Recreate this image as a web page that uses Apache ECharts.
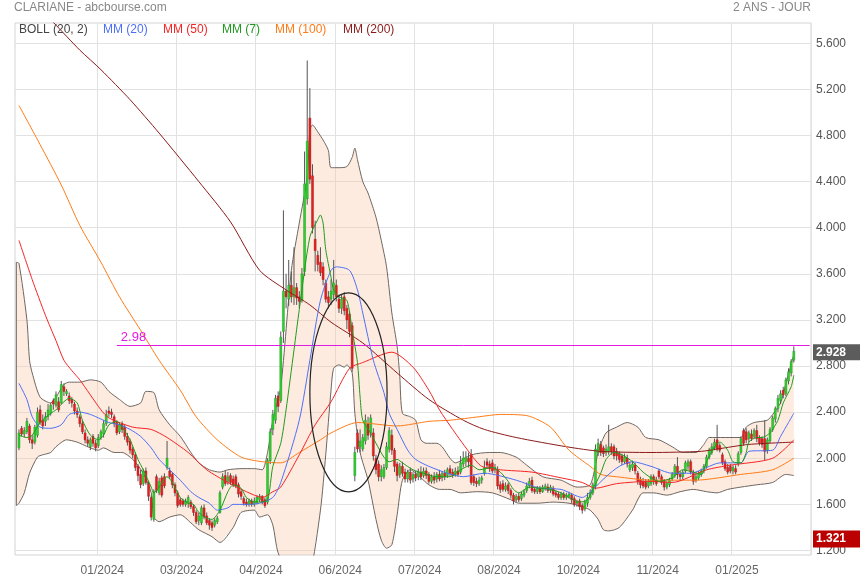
<!DOCTYPE html>
<html><head><meta charset="utf-8">
<script src="https://cdn.jsdelivr.net/npm/echarts@6/dist/echarts.min.js"></script>
<style>html,body{margin:0;padding:0;background:#fff}#c{width:860px;height:580px}</style>
</head><body><div id="c"></div>
<script>
// ---------- DATA ----------
const titleText = 'CLARIANE - abcbourse.com';
const periodText = '2 ANS - JOUR';
const tickLabels = ['01/2024','03/2024','04/2024','06/2024','07/2024','08/2024','10/2024','11/2024','01/2025'];
const firstTickIndex = 31, tickStep = 30, slotCount = 301, firstCandleIndex = 1;
const lastPrice = 2.928, lowTag = 1.321, alertLevel = 2.98, alertStartIndex = 38;
// candles: [open, close, low, high]
const candles = [
[2.09,2.22,2.07,2.25],[2.26,2.21,2.19,2.28],[2.21,2.24,2.18,2.27],[2.23,2.32,2.21,2.35],[2.28,2.16,2.13,2.30],
[2.16,2.13,2.08,2.20],[2.14,2.27,2.12,2.29],[2.20,2.40,2.18,2.44],[2.42,2.31,2.29,2.46],[2.33,2.28,2.25,2.38],
[2.32,2.36,2.28,2.40],[2.36,2.42,2.33,2.47],[2.39,2.46,2.37,2.48],[2.50,2.47,2.42,2.52],[2.46,2.55,2.44,2.58],
[2.49,2.42,2.40,2.53],[2.48,2.64,2.47,2.67],[2.62,2.58,2.54,2.65],[2.56,2.58,2.54,2.60],[2.54,2.50,2.47,2.57],
[2.51,2.48,2.44,2.53],[2.47,2.41,2.38,2.49],[2.41,2.38,2.35,2.44],[2.36,2.30,2.27,2.38],[2.30,2.23,2.21,2.33],
[2.22,2.16,2.13,2.25],[2.16,2.13,2.10,2.19],[2.10,2.16,2.07,2.18],[2.19,2.13,2.10,2.21],[2.13,2.09,2.06,2.16],
[2.11,2.18,2.09,2.21],[2.18,2.23,2.16,2.25],[2.21,2.30,2.18,2.33],[2.30,2.38,2.28,2.42],[2.41,2.39,2.36,2.45],
[2.40,2.38,2.35,2.43],[2.36,2.30,2.27,2.38],[2.31,2.22,2.20,2.33],[2.23,2.29,2.21,2.31],[2.30,2.25,2.22,2.32],
[2.27,2.19,2.16,2.29],[2.19,2.14,2.11,2.22],[2.15,2.07,2.04,2.17],[2.08,2.03,2.00,2.10],[2.03,1.92,1.89,2.05],
[1.93,1.85,1.80,1.95],[1.86,1.77,1.74,1.90],[1.78,1.89,1.76,1.91],[1.89,1.79,1.77,1.92],[1.78,1.67,1.63,1.80],
[1.66,1.49,1.46,1.68],[1.47,1.71,1.45,1.73],[1.84,1.72,1.70,1.86],[1.70,1.80,1.68,1.83],[1.83,1.68,1.66,1.85],
[1.84,1.76,1.74,1.87],[1.92,2.00,1.90,2.15],[1.89,1.84,1.82,1.92],[1.86,1.77,1.74,1.88],[1.77,1.70,1.67,1.79],
[1.70,1.59,1.57,1.72],[1.64,1.60,1.58,1.66],[1.63,1.60,1.58,1.65],[1.60,1.63,1.58,1.65],[1.61,1.66,1.57,1.68],
[1.62,1.58,1.56,1.64],[1.58,1.53,1.50,1.60],[1.53,1.45,1.43,1.55],[1.46,1.50,1.42,1.53],[1.44,1.57,1.42,1.59],
[1.57,1.49,1.47,1.60],[1.50,1.44,1.42,1.53],[1.46,1.42,1.38,1.48],[1.44,1.40,1.37,1.46],[1.42,1.46,1.40,1.48],
[1.45,1.48,1.43,1.50],[1.53,1.70,1.52,1.72],[1.75,1.84,1.73,1.87],[1.85,1.78,1.76,1.89],[1.80,1.84,1.77,1.88],
[1.85,1.79,1.77,1.87],[1.82,1.77,1.75,1.85],[1.84,1.76,1.74,1.86],[1.77,1.69,1.66,1.79],[1.71,1.67,1.64,1.73],
[1.65,1.61,1.59,1.67],[1.62,1.60,1.58,1.65],[1.60,1.63,1.58,1.65],[1.63,1.60,1.58,1.65],[1.60,1.63,1.58,1.66],
[1.62,1.66,1.60,1.68],[1.64,1.67,1.62,1.69],[1.67,1.62,1.60,1.68],[1.64,1.59,1.57,1.66],[1.62,1.98,1.60,2.00],
[1.98,2.23,1.95,2.26],[2.25,2.38,2.20,2.42],[2.33,2.52,2.30,2.55],[2.54,2.45,2.40,2.58],[2.50,3.05,2.48,3.10],
[3.10,3.45,3.00,4.15],[3.45,3.40,3.30,3.60],[3.38,3.50,3.32,3.72],[3.50,3.40,3.35,3.62],[3.40,3.48,3.33,3.83],
[3.48,3.39,3.33,3.52],[3.40,3.36,3.30,3.45],[3.37,3.60,3.35,3.65],[3.62,4.38,3.58,4.66],[4.25,4.75,4.20,5.45],
[4.95,4.42,4.38,5.21],[4.45,4.00,3.95,4.55],[3.90,3.80,3.62,4.06],[3.76,3.68,3.62,3.80],[3.70,3.61,3.58,3.83],
[3.66,3.55,3.50,3.70],[3.52,3.38,3.35,3.55],[3.40,3.35,3.30,3.45],[3.38,3.45,3.33,3.55],[3.42,3.52,3.38,3.72],
[3.50,3.40,3.36,3.55],[3.38,3.30,3.26,3.42],[3.30,3.38,3.25,3.42],[3.40,3.28,3.24,3.44],[3.30,3.20,3.12,3.33],
[3.25,3.10,3.05,3.28],[3.15,2.78,2.75,3.18],[1.85,2.05,1.80,2.10],[2.22,2.08,2.05,2.25],[2.10,2.15,2.05,2.25],
[2.08,2.18,2.06,2.21],[2.15,2.33,2.12,2.38],[2.30,2.20,2.16,2.36],[2.22,2.35,2.18,2.38],[2.22,2.02,1.98,2.26],
[2.00,1.90,1.86,2.03],[1.95,1.84,1.80,1.98],[1.84,1.90,1.80,1.94],[1.84,1.92,1.82,1.95],[1.92,2.10,1.90,2.14],
[2.08,2.24,2.05,2.27],[2.20,2.07,2.03,2.25],[2.07,1.93,1.88,2.09],[1.95,1.85,1.80,1.97],[1.86,1.93,1.83,1.96],
[1.93,1.87,1.84,1.97],[1.88,1.82,1.79,1.91],[1.82,1.88,1.79,1.90],[1.88,1.81,1.78,1.92],[1.82,1.86,1.79,1.88],
[1.86,1.83,1.80,1.89],[1.84,1.88,1.81,1.91],[1.88,1.84,1.81,1.93],[1.85,1.89,1.83,1.92],[1.89,1.85,1.82,1.92],
[1.86,1.80,1.78,1.88],[1.80,1.84,1.78,1.86],[1.84,1.81,1.78,1.88],[1.82,1.86,1.79,1.88],[1.86,1.82,1.80,1.90],
[1.83,1.87,1.80,1.89],[1.87,1.84,1.81,1.90],[1.85,1.90,1.83,1.92],[1.91,1.87,1.84,1.94],[1.88,1.85,1.83,1.91],
[1.86,1.89,1.84,1.92],[1.89,1.86,1.84,1.93],[1.88,1.96,1.86,2.02],[1.95,2.00,1.92,2.06],[1.97,2.01,1.93,2.06],
[2.00,1.97,1.92,2.05],[2.03,1.79,1.77,2.08],[1.84,1.79,1.76,1.86],[1.80,1.78,1.75,1.83],[1.78,1.81,1.76,1.84],
[1.81,1.83,1.78,1.85],[1.87,1.92,1.85,1.98],[1.97,1.94,1.91,2.00],[1.95,1.91,1.88,1.98],[1.96,1.89,1.87,1.99],
[1.90,1.92,1.87,1.95],[1.90,1.76,1.73,1.93],[1.77,1.73,1.70,1.80],[1.78,1.73,1.71,1.81],[1.73,1.76,1.71,1.79],
[1.77,1.72,1.69,1.79],[1.72,1.68,1.65,1.74],[1.68,1.63,1.60,1.70],[1.64,1.67,1.62,1.69],[1.67,1.64,1.62,1.70],
[1.65,1.69,1.63,1.71],[1.68,1.71,1.66,1.73],[1.72,1.76,1.70,1.79],[1.76,1.80,1.74,1.83],[1.81,1.72,1.70,1.84],
[1.73,1.71,1.69,1.75],[1.71,1.74,1.69,1.76],[1.74,1.71,1.69,1.76],[1.71,1.75,1.70,1.77],[1.74,1.76,1.72,1.78],
[1.75,1.72,1.70,1.78],[1.72,1.75,1.70,1.77],[1.74,1.69,1.67,1.76],[1.70,1.68,1.66,1.72],[1.69,1.66,1.64,1.71],
[1.66,1.69,1.64,1.71],[1.69,1.66,1.64,1.71],[1.66,1.68,1.64,1.70],[1.67,1.69,1.65,1.71],[1.68,1.64,1.61,1.70],
[1.65,1.60,1.58,1.67],[1.61,1.62,1.58,1.64],[1.63,1.58,1.55,1.65],[1.59,1.55,1.52,1.61],[1.56,1.62,1.54,1.64],
[1.61,1.66,1.58,1.70],[1.66,1.70,1.64,1.73],[1.70,1.77,1.68,1.79],[1.76,2.08,1.73,2.12],[2.05,2.13,2.02,2.17],
[2.12,2.05,2.02,2.15],[2.09,2.04,2.01,2.11],[2.05,2.08,2.02,2.12],[2.06,2.10,2.03,2.29],[2.10,2.06,2.03,2.13],
[2.10,2.02,1.99,2.12],[2.06,2.02,1.98,2.09],[2.04,1.99,1.96,2.06],[2.02,1.97,1.94,2.04],[1.97,2.01,1.95,2.04],
[2.00,1.95,1.92,2.03],[1.90,1.94,1.88,1.97],[1.92,1.95,1.89,1.98],[1.94,1.89,1.86,1.96],[1.87,1.80,1.77,1.89],
[1.82,1.77,1.74,1.84],[1.80,1.76,1.74,1.83],[1.79,1.75,1.73,1.82],[1.76,1.80,1.74,1.82],[1.78,1.84,1.76,1.86],
[1.84,1.80,1.77,1.86],[1.81,1.78,1.76,1.84],[1.89,1.84,1.82,1.91],[1.84,1.79,1.77,1.86],[1.80,1.75,1.72,1.82],
[1.75,1.78,1.73,1.80],[1.77,1.81,1.75,1.83],[1.82,1.86,1.80,1.88],[1.85,1.93,1.83,1.95],[1.93,1.86,1.82,2.01],
[1.86,1.84,1.81,1.89],[1.84,1.88,1.82,1.90],[1.89,1.96,1.87,1.98],[1.93,1.97,1.90,1.99],[1.97,1.88,1.86,1.99],
[1.88,1.80,1.77,1.90],[1.81,1.84,1.79,1.88],[1.83,1.87,1.81,1.89],[1.86,1.89,1.84,1.91],[1.89,1.93,1.87,1.95],
[1.93,2.01,1.91,2.03],[2.01,2.07,1.99,2.09],[2.05,2.10,2.03,2.13],[2.09,2.14,2.07,2.17],[2.16,2.08,2.06,2.29],
[2.11,2.07,2.05,2.13],[2.03,1.96,1.94,2.05],[1.97,1.91,1.89,1.99],[1.92,1.88,1.86,1.95],[1.93,1.89,1.87,1.95],
[1.89,1.92,1.86,1.94],[1.91,1.88,1.86,1.94],[1.95,2.04,1.93,2.06],[2.05,2.17,2.03,2.19],[2.24,2.13,2.11,2.26],
[2.23,2.16,2.13,2.26],[2.17,2.22,2.14,2.24],[2.21,2.17,2.15,2.25],[2.19,2.24,2.17,2.26],[2.24,2.17,2.14,2.29],
[2.18,2.13,2.11,2.20],[2.17,2.12,2.09,2.19],[2.17,2.06,1.98,2.33],[2.07,2.16,2.04,2.18],[2.15,2.25,2.13,2.27],
[2.25,2.35,2.23,2.37],[2.34,2.43,2.31,2.45],[2.43,2.52,2.40,2.55],[2.50,2.56,2.47,2.59],[2.59,2.55,2.52,2.62],
[2.56,2.68,2.54,2.70],[2.67,2.75,2.64,2.78],[2.74,2.84,2.71,2.86],[2.85,2.928,2.83,2.97]
];
// moving averages and Bollinger bands: [category index, value]
const ma7 = [[1,2.20],[4,2.18],[6,2.20],[9,2.31],[13,2.39],[15,2.42],[18,2.49],[20,2.52],[23,2.48],[25,2.33],[28,2.20],[31,2.16],[33,2.20],[35,2.29],[38,2.32],[40,2.27],[43,2.16],[46,1.99],[48,1.90],[51,1.75],[52,1.70],[54,1.75],[57,1.84],[59,1.79],[62,1.66],[65,1.61],[67,1.60],[69,1.53],[72,1.48],[74,1.47],[77,1.55],[80,1.71],[82,1.77],[85,1.74],[87,1.66],[90,1.62],[92,1.62],[95,1.64],[97,1.93],[100,2.13],[102,2.42],[105,2.94],[107,3.29],[111,3.92],[114,4.07],[115,4.11],[116,4.04],[117,3.81],[119,3.57],[120,3.46],[122,3.40],[125,3.37],[127,3.11],[129,2.83],[130,2.53],[131,2.33],[134,2.22],[136,2.13],[139,2.01],[141,1.97],[144,1.99],[146,1.96],[150,1.90],[154,1.87],[159,1.84],[164,1.84],[168,1.90],[172,1.94],[175,1.90],[180,1.92],[183,1.88],[186,1.80],[188,1.73],[190,1.70],[194,1.75],[198,1.74],[202,1.73],[206,1.70],[209,1.66],[213,1.62],[216,1.64],[218,1.73],[221,1.87],[223,1.99],[226,2.05],[229,2.03],[233,1.97],[237,1.88],[240,1.83],[243,1.80],[248,1.83],[252,1.90],[256,1.88],[259,1.86],[261,1.97],[264,2.10],[266,2.14],[269,2.07],[271,1.97],[274,1.96],[276,2.05],[277,2.14],[280,2.18],[282,2.18],[285,2.22],[288,2.33],[290,2.48],[293,2.62],[294,2.72]];
const ma20 = [[1,2.65],[4,2.51],[6,2.36],[9,2.27],[13,2.26],[17,2.29],[20,2.38],[24,2.40],[28,2.38],[32,2.34],[35,2.31],[39,2.29],[43,2.25],[47,2.19],[51,2.09],[54,1.99],[58,1.90],[62,1.81],[66,1.71],[69,1.66],[73,1.61],[76,1.55],[80,1.57],[82,1.60],[87,1.60],[92,1.61],[97,1.66],[100,1.79],[107,2.33],[111,2.85],[115,3.37],[119,3.63],[121,3.66],[126,3.63],[129,3.46],[131,3.26],[135,2.85],[139,2.57],[141,2.39],[144,2.25],[148,2.07],[151,1.99],[156,1.93],[163,1.87],[169,1.84],[177,1.87],[189,1.81],[198,1.74],[206,1.73],[214,1.66],[218,1.73],[223,1.84],[228,1.93],[233,1.97],[240,1.93],[248,1.87],[255,1.87],[261,1.92],[266,1.96],[274,1.96],[277,2.06],[286,2.07],[289,2.19],[292,2.31],[294,2.39]];
const ma50 = [[1,3.89],[6,3.55],[11,3.24],[15,3.02],[18,2.85],[21,2.76],[24,2.68],[32,2.42],[35,2.35],[44,2.27],[51,2.25],[57,2.18],[65,2.05],[72,1.90],[80,1.79],[87,1.71],[93,1.66],[97,1.71],[100,1.75],[107,2.03],[113,2.29],[119,2.49],[126,2.78],[131,2.83],[142,2.92],[150,2.79],[156,2.59],[160,2.42],[165,2.25],[172,2.03],[176,1.93],[183,1.90],[195,1.88],[206,1.83],[214,1.79],[219,1.74],[227,1.78],[240,1.80],[248,1.79],[261,1.90],[270,1.94],[286,2.00],[294,2.16]];
const ma100 = [[1,5.06],[9,4.72],[17,4.37],[24,4.02],[32,3.70],[39,3.40],[47,3.11],[54,2.85],[62,2.59],[68,2.36],[76,2.16],[85,2.01],[93,1.97],[100,1.96],[107,2.05],[115,2.16],[119,2.22],[129,2.31],[144,2.28],[156,2.32],[164,2.33],[175,2.36],[183,2.38],[193,2.37],[202,2.27],[209,2.07],[217,1.93],[221,1.86],[227,1.84],[240,1.81],[257,1.81],[274,1.86],[286,1.90],[294,2.00]];
const ma200 = [[0,6.10],[14,5.78],[24,5.54],[32,5.37],[43,5.11],[54,4.82],[69,4.40],[81,4.05],[92,3.63],[102,3.46],[111,3.33],[119,3.18],[131,3.00],[144,2.74],[156,2.51],[169,2.33],[177,2.25],[189,2.18],[208,2.10],[221,2.06],[240,2.05],[259,2.06],[265,2.08],[277,2.12],[294,2.14]];
const bollUpper = [[0,3.70],[1,3.69],[4,3.20],[5,2.85],[6,2.74],[9,2.53],[13,2.48],[15,2.53],[18,2.64],[20,2.66],[24,2.66],[28,2.68],[32,2.66],[35,2.58],[39,2.51],[43,2.45],[47,2.48],[49,2.58],[52,2.57],[54,2.42],[58,2.29],[62,2.19],[66,2.05],[69,1.96],[73,1.90],[77,1.88],[80,1.90],[85,1.91],[90,1.91],[93,1.90],[95,2.05],[97,2.33],[100,2.62],[104,3.63],[107,4.04],[110,4.44],[111,4.85],[112,4.89],[114,4.83],[116,4.76],[118,4.67],[119,4.52],[122,4.52],[125,4.53],[127,4.61],[128,4.69],[129,4.59],[131,4.40],[133,4.30],[136,4.09],[138,3.89],[140,3.66],[142,3.26],[144,2.97],[145,2.71],[146,2.39],[149,2.36],[151,2.33],[153,2.16],[155,2.13],[159,2.13],[161,2.10],[164,2.00],[166,1.96],[172,2.03],[179,2.05],[183,2.05],[189,2.01],[193,1.94],[199,1.84],[206,1.81],[212,1.75],[217,1.77],[220,2.05],[223,2.22],[227,2.27],[231,2.31],[235,2.27],[238,2.18],[243,2.16],[248,2.10],[252,2.05],[257,2.05],[260,2.12],[262,2.18],[274,2.18],[276,2.27],[279,2.31],[284,2.33],[286,2.38],[289,2.48],[291,2.65],[294,2.90]];
const bollLower = [[0,1.59],[1,1.61],[3,1.70],[5,1.87],[8,2.01],[10,2.03],[13,2.05],[15,2.10],[19,2.16],[23,2.14],[25,2.12],[28,2.09],[31,2.07],[33,2.09],[37,2.05],[40,2.05],[44,1.99],[48,1.87],[51,1.70],[52,1.49],[54,1.45],[58,1.49],[62,1.51],[66,1.44],[69,1.38],[74,1.32],[77,1.27],[82,1.40],[85,1.53],[90,1.55],[92,1.49],[95,1.51],[97,1.42],[99,1.18],[104,0.95],[107,0.86],[111,0.99],[115,1.55],[117,2.03],[119,2.59],[120,2.78],[122,2.81],[124,2.79],[125,2.81],[127,2.74],[128,2.39],[130,2.05],[133,1.81],[136,1.47],[138,1.29],[140,1.22],[142,1.25],[144,1.51],[146,1.81],[149,1.90],[153,1.83],[156,1.77],[160,1.73],[164,1.73],[168,1.70],[174,1.71],[180,1.70],[187,1.64],[190,1.61],[197,1.61],[203,1.62],[209,1.61],[214,1.58],[217,1.55],[220,1.47],[222,1.38],[224,1.37],[228,1.40],[233,1.55],[237,1.70],[241,1.70],[246,1.68],[251,1.71],[256,1.73],[261,1.71],[265,1.70],[269,1.73],[274,1.75],[280,1.77],[286,1.79],[291,1.86],[294,1.85]];
// annotation ellipse (data units): center [index, value], radii [indices, value]
const ellipseCenter = [125.6, 2.571], ellipseRadius = [14.6, 0.863];

// ---------- CHART ----------
const FONT = 'Arial, "Liberation Sans", sans-serif';
const C = {ma7:'#1e9a1e', ma20:'#4d6ff5', ma50:'#f52424', ma100:'#ff7b16', ma200:'#8b1a1a', boll:'#6e6660',
  fill:'rgba(250,200,170,0.36)', up:'#2fcf2f', upB:'#1d8f1d', down:'#e02020', downB:'#a81515', wick:'#555', alert:'#e21be2'};

const categories = Array.from({length: slotCount}, (_, k) => String(k));
const isTick = k => k >= firstTickIndex && (k - firstTickIndex) % tickStep === 0 && (k - firstTickIndex) / tickStep < tickLabels.length;
const candleData = candles.map((d, k) => [k + firstCandleIndex, d[0], d[1], d[2], d[3]]);

const chart = echarts.init(document.getElementById('c'), null, {renderer: 'canvas'});
const lineS = (name, data, color, z) => ({name, type: 'line', data, xAxisIndex: 0, yAxisIndex: 0, showSymbol: false,
  symbol: 'none', smooth: 0.25, clip: true, silent: true, z: z || 4, lineStyle: {color, width: 1}});

chart.setOption({
  animation: false,
  textStyle: {fontFamily: FONT},
  grid: [
    {left: 15, right: 49, top: 23, bottom: 25, show: true, borderColor: '#d4d4d4', borderWidth: 1, outerBoundsMode: 'none', containLabel: false},
    {left: 15, right: 49, top: 43.3, height: 507.2, outerBoundsMode: 'none', containLabel: false}
  ],
  xAxis: [
    {type: 'category', gridIndex: 0, data: categories, boundaryGap: true,
     axisLine: {show: false}, axisTick: {show: false},
     splitLine: {show: true, interval: (i) => isTick(i), lineStyle: {color: '#e2e2e2', width: 1}},
     axisLabel: {interval: (i) => isTick(i), formatter: (v, i) => tickLabels[(i - firstTickIndex) / tickStep] || '',
       color: '#666', fontSize: 12, margin: 10, padding: [0, 0, 0, 8], fontFamily: FONT}},
    {type: 'value', gridIndex: 1, show: false, min: 0, max: 1}
  ],
  yAxis: [
    {type: 'value', gridIndex: 0, min: 1.161, max: 5.775, show: false},
    {type: 'value', gridIndex: 1, min: 1.2, max: 5.6, interval: 0.4, position: 'right',
     axisLine: {show: false}, axisTick: {show: false},
     splitLine: {show: true, lineStyle: {color: '#e2e2e2', width: 1}},
     axisLabel: {formatter: v => v.toFixed(3), color: '#555', fontSize: 12, margin: 5, padding: [0, 0, 5, 0], fontFamily: FONT}}
  ],
  series: [
    {type: 'custom', name: 'bollFill', xAxisIndex: 0, yAxisIndex: 0, data: [[150, 3]], clip: true, silent: true, z: 1,
     encode: {x: 0, y: 1},
     renderItem: (p, api) => {
       const pts = bollUpper.map(d => api.coord(d)).concat(bollLower.slice().reverse().map(d => api.coord(d)));
       return {type: 'polygon', shape: {points: pts}, style: {fill: C.fill}};
     }},
    lineS('bollUp', bollUpper, C.boll, 2),
    lineS('bollLow', bollLower, C.boll, 2),
    Object.assign(lineS('bollEdge', [bollUpper[0], bollLower[0]], C.boll, 2), {smooth: false}),
    {type: 'custom', name: 'candles', xAxisIndex: 0, yAxisIndex: 0, data: candleData, clip: true, silent: true, z: 3,
     encode: {x: 0, y: [1, 2, 3, 4]},
     renderItem: (p, api) => {
       const i = api.value(0), o = api.value(1), c = api.value(2), l = api.value(3), h = api.value(4);
       const po = api.coord([i, o]), pc = api.coord([i, c]), pl = api.coord([i, l]), ph = api.coord([i, h]);
       const bw = api.size([1, 0])[0];
       const w = Math.max(1.6, bw * 0.78);
       const up = c >= o;
       const top = Math.min(po[1], pc[1]);
       const hh = Math.max(1, Math.abs(po[1] - pc[1]));
       return {type: 'group', children: [
         {type: 'line', shape: {x1: ph[0], y1: ph[1], x2: pl[0], y2: pl[1]}, style: {stroke: C.wick, lineWidth: 1}},
         {type: 'rect', shape: {x: ph[0] - w / 2, y: top, width: w, height: hh},
          style: {fill: up ? C.up : C.down, stroke: up ? C.upB : C.downB, lineWidth: 0.4}}
       ]};
     }},
    lineS('MM (200)', ma200, C.ma200, 4),
    lineS('MM (100)', ma100, C.ma100, 4),
    lineS('MM (50)', ma50, C.ma50, 4),
    lineS('MM (20)', ma20, C.ma20, 5),
    Object.assign(lineS('MM (7)', ma7, C.ma7, 6), {
      markLine: {silent: true, symbol: 'none', animation: false,
        lineStyle: {color: C.alert, width: 1, type: 'solid'},
        label: {show: true, position: 'insideStartTop', distance: 1, padding: [0, 0, 0, 3], formatter: String(alertLevel), color: C.alert, fontSize: 13, fontFamily: FONT},
        data: [[{coord: [alertStartIndex, alertLevel]}, {coord: [slotCount - 1, alertLevel]}]]}
    })
  ]
});

// ---------- annotations positioned through the axes ----------
const yOf = v => chart.convertToPixel({yAxisIndex: 0}, v);
const pA = chart.convertToPixel({gridIndex: 0}, [Math.floor(ellipseCenter[0]), ellipseCenter[1]]);
const pB = chart.convertToPixel({gridIndex: 0}, [Math.floor(ellipseCenter[0]) + 1, ellipseCenter[1]]);
const slot = pB[0] - pA[0];
const ecx = pA[0] + (ellipseCenter[0] - Math.floor(ellipseCenter[0])) * slot;
const ecy = pA[1];
const ery = Math.abs(yOf(ellipseCenter[1] + ellipseRadius[1]) - ecy);
const plotRight = 811;
const yLast = yOf(lastPrice), yLow = yOf(lowTag);

const legendItems = [
  ['BOLL (20, 2)', 19, '#444'], ['MM (20)', 103, C.ma20], ['MM (50)', 163, C.ma50],
  ['MM (7)', 222, C.ma7], ['MM (100)', 275, C.ma100], ['MM (200)', 343, C.ma200]
];
const graphics = [
  {type: 'text', left: 14, top: 2, style: {text: titleText, font: '12px ' + FONT, fill: '#888'}},
  {type: 'text', right: 49, top: 2, style: {text: periodText, font: '12px ' + FONT, fill: '#888'}},
  {type: 'ellipse', shape: {cx: ecx, cy: ecy, rx: ellipseRadius[0] * slot, ry: ery}, z: 50,
   style: {fill: 'none', stroke: '#222', lineWidth: 1.2}},
  {type: 'rect', shape: {x: plotRight + 2, y: yLast - 7, width: 47, height: 16}, z: 60, style: {fill: '#5c5c5c'}},
  {type: 'text', x: plotRight + 5, y: yLast + 1, z: 61, style: {text: lastPrice.toFixed(3), font: 'bold 12px ' + FONT, fill: '#fff', verticalAlign: 'middle'}},
  {type: 'rect', shape: {x: plotRight + 2, y: yLow - 6, width: 47, height: 17}, z: 60, style: {fill: '#bb0000'}},
  {type: 'text', x: plotRight + 5, y: yLow + 2.5, z: 61, style: {text: lowTag.toFixed(3), font: 'bold 12px ' + FONT, fill: '#fff', verticalAlign: 'middle'}}
];
legendItems.forEach(([t, x, col]) => graphics.push({type: 'text', left: x, top: 24, z: 40, style: {text: t, font: '12px ' + FONT, fill: col}}));
chart.setOption({graphic: graphics});
</script>
</body></html>
